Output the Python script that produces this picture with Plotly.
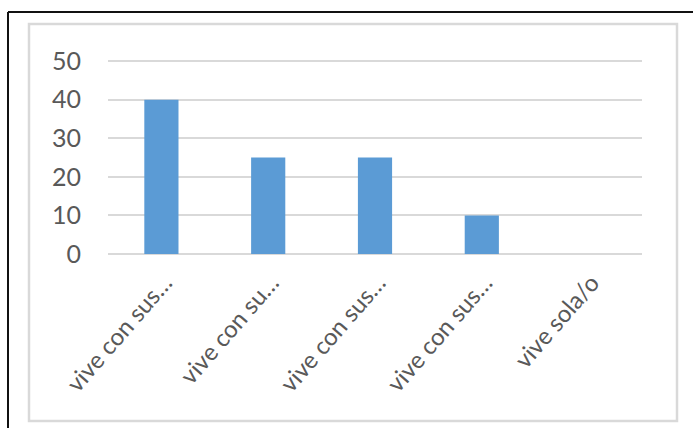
import plotly.graph_objects as go

# Bar chart of living arrangements
tick_labels = ["vive con sus…", "vive con su…", "vive con sus…", "vive con sus…", "vive sola/o"]
positions = [0, 1, 2, 3, 4]
values = [40, 25, 25, 10, 0]

W, H = 693, 428
L, R, T, B = 108, 51, 60, 174
pw, ph = W - L - R, H - T - B


def px(x):
    return (x - L) / pw


def py(y):
    return (H - B - y) / ph


fig = go.Figure(
    go.Bar(
        x=positions,
        y=values,
        width=0.32,
        marker=dict(color="#5B9BD5", line=dict(width=0)),
    )
)

font = "Lato, 'Open Sans', sans-serif"

fig.update_layout(
    width=W,
    height=H,
    margin=dict(l=L, r=R, t=T, b=B, pad=0),
    paper_bgcolor="white",
    plot_bgcolor="white",
    showlegend=False,
    font=dict(family=font, color="#595959", size=21),
    xaxis=dict(
        range=[-0.5, 4.5],
        tickmode="array",
        tickvals=positions,
        ticktext=tick_labels,
        tickangle=-49,
        showgrid=False,
        zeroline=False,
        showline=False,
        ticks="",
        ticklabelstandoff=9,
        ticklabelshift=3,
        tickfont=dict(size=24, color="#595959"),
    ),
    yaxis=dict(
        range=[0, 50.3],
        tickvals=[0, 10, 20, 30, 40, 50],
        showgrid=True,
        gridcolor="#D9D9D9",
        gridwidth=2,
        zeroline=True,
        zerolinecolor="#D9D9D9",
        zerolinewidth=2,
        showline=False,
        ticks="",
        ticklabelstandoff=26,
        tickfont=dict(size=25, color="#595959"),
    ),
    shapes=[
        # light chart frame
        dict(type="rect", xref="paper", yref="paper",
             x0=px(29), x1=px(677), y0=py(421), y1=py(24),
             line=dict(color="#D9D9D9", width=2.5), fillcolor="rgba(0,0,0,0)", layer="below"),
        # dark outer frame (top and left edges)
        dict(type="line", xref="paper", yref="paper",
             x0=px(8), x1=px(700), y0=py(12), y1=py(12),
             line=dict(color="#111111", width=2)),
        dict(type="line", xref="paper", yref="paper",
             x0=px(8), x1=px(8), y0=py(12), y1=py(440),
             line=dict(color="#111111", width=2)),
    ],
)

fig.write_html("out.html")
